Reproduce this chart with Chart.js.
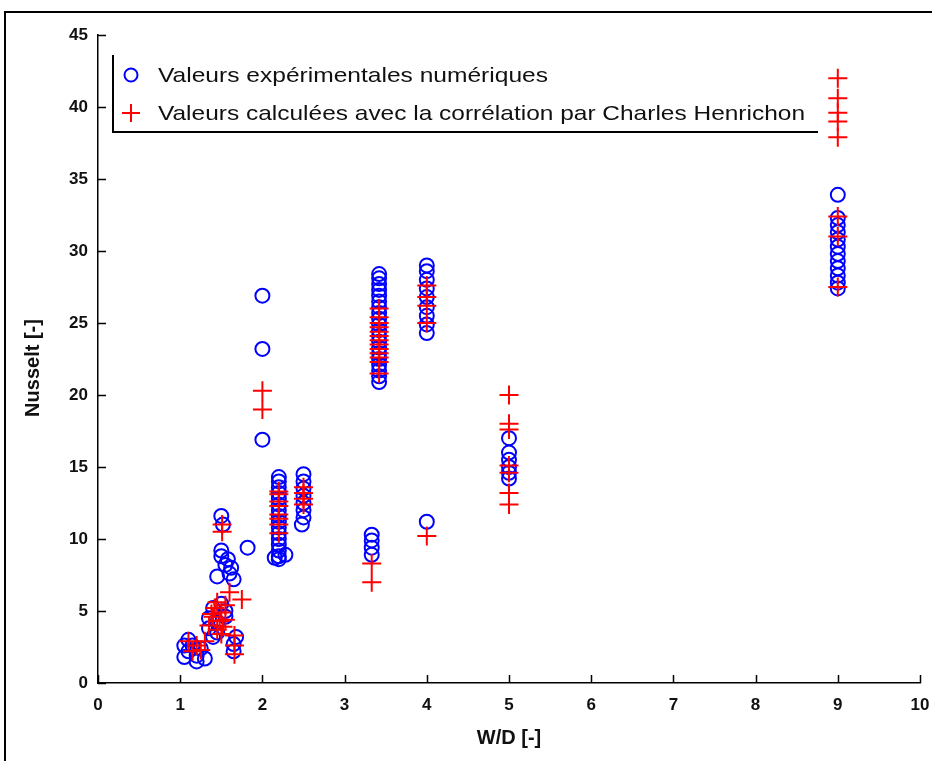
<!DOCTYPE html>
<html lang="fr">
<head>
<meta charset="UTF-8" />
<title>Nusselt en fonction de W/D</title>
<script src="https://cdn.jsdelivr.net/npm/chart.js"></script>
<style>
  html, body { margin: 0; padding: 0; background: #fff; }
  #wrap { position: relative; width: 932px; height: 761px; }
</style>
</head>
<body>
<div id="wrap"><canvas id="chart" width="932" height="761"></canvas></div>
<script>
// Valeurs expérimentales numériques (cercles bleus)
const expX = [
  1.05, 1.1, 1.15, 1.2, 1.1, 1.25, 1.05, 1.3, 1.2,
  1.35, 1.4, 1.45, 1.5, 1.55, 1.45, 1.35, 1.55, 1.4,
  1.5, 1.52, 1.5, 1.55, 1.6, 1.65, 1.5, 1.62, 1.45, 1.58,
  1.82,
  1.65, 1.68, 1.65,
  2, 2, 2,
  2.2, 2.2, 2.2, 2.2, 2.2, 2.2, 2.2, 2.2, 2.2, 2.2, 2.2, 2.2, 2.2, 2.2, 2.2, 2.2, 2.15, 2.28,
  2.5, 2.5, 2.5, 2.5, 2.5, 2.5, 2.5, 2.48,
  3.33, 3.33, 3.33, 3.33,
  3.42, 3.42, 3.42, 3.42, 3.42, 3.42, 3.42, 3.42, 3.42, 3.42,
  3.42, 3.42, 3.42, 3.42, 3.42, 3.42, 3.42, 3.42, 3.42, 3.42,
  4, 4, 4, 4, 4, 4, 4, 4, 4, 4,
  5, 5, 5, 5, 5, 5,
  9, 9, 9, 9, 9, 9, 9, 9, 9, 9, 9, 9
];
const expY = [
  1.8, 2.2, 2.6, 1.9, 3.0, 2.4, 2.6, 1.7, 1.5,
  4.5, 5.2, 3.5, 5.5, 5.0, 4.2, 3.8, 4.6, 3.2,
  11.6, 11.0, 8.8, 8.2, 7.6, 7.2, 9.2, 8.0, 7.4, 8.6,
  9.4,
  2.2, 3.2, 2.7,
  26.9, 23.2, 16.9,
  8.8, 9.2, 9.6, 10.0, 10.4, 10.8, 11.2, 11.6, 12.0, 12.4, 12.8, 13.2, 13.6, 14.0, 14.3, 8.6, 8.7, 8.9,
  11.5, 12.0, 12.5, 13.0, 13.5, 14.0, 14.5, 11.0,
  8.9, 9.4, 9.9, 10.3,
  20.9, 21.3, 21.7, 22.1, 22.5, 22.9, 23.3, 23.7, 24.1, 24.5,
  24.9, 25.3, 25.7, 26.1, 26.5, 26.9, 27.3, 27.7, 28.1, 28.4,
  11.2, 24.3, 24.9, 25.5, 26.1, 26.8, 27.4, 28.0, 28.6, 29.0,
  17.0, 16.0, 15.5, 15.0, 14.6, 14.2,
  33.9, 32.3, 31.8, 31.3, 30.8, 30.3, 29.8, 29.3, 28.8, 28.3, 27.8, 27.4
];

// Valeurs calculées avec la corrélation (croix rouges)
const calcX = [
  1.1, 1.2, 1.25, 1.3, 1.15,
  1.35, 1.4, 1.42, 1.45, 1.48, 1.5, 1.52, 1.55, 1.45, 1.5, 1.38, 1.55,
  1.51, 1.51, 1.6, 1.75,
  1.66, 1.66, 1.66,
  2, 2,
  2.2, 2.2, 2.2, 2.2, 2.2, 2.2, 2.2, 2.2,
  2.5, 2.5, 2.5, 2.5,
  3.33, 3.33,
  3.42, 3.42, 3.42, 3.42, 3.42, 3.42, 3.42, 3.42, 3.42, 3.42, 3.42, 3.42, 3.42,
  4, 4, 4, 4, 4,
  5, 5, 5, 5, 5, 5, 5,
  9, 9, 9, 9, 9, 9, 9, 9
];
const calcY = [
  2.9, 2.6, 2.3, 2.9, 2.2,
  4.0, 4.6, 5.2, 3.7, 4.3, 4.9, 3.9, 5.4, 5.6, 3.4, 4.8, 4.4,
  10.5, 11.0, 6.3, 5.8,
  2.0, 2.6, 3.3,
  19.0, 20.3,
  10.4, 11.0, 11.4, 11.7, 12.3, 12.6, 13.1, 13.3,
  12.4, 12.8, 13.2, 13.6,
  8.3, 7.0,
  21.5, 22.3, 22.6, 22.9, 23.2, 23.5, 23.8, 24.1, 24.4, 24.7, 25.0, 25.4, 26.0,
  10.2, 25.0, 26.2, 26.8, 27.6,
  20.0, 18.0, 17.6, 15.1, 14.6, 13.2, 12.4,
  42.0, 40.6, 39.6, 39.0, 37.9, 32.4, 31.0, 27.5
];

const xTicks = [0, 1, 2, 3, 4, 5, 6, 7, 8, 9, 10];
const yTicks = [0, 5, 10, 15, 20, 25, 30, 35, 40, 45];
const legendLabels = [
  'Valeurs expérimentales numériques',
  'Valeurs calculées avec la corrélation par Charles Henrichon'
];

const FONT = '"Liberation Sans", Arial, sans-serif';

function toPoints(xs, ys) {
  return xs.map((x, i) => ({ x: x, y: ys[i] }));
}

// frame, inward ticks, y title and legend drawn on top of the chart
const decorations = {
  id: 'decorations',
  afterDraw(chart) {
    const ctx = chart.ctx;
    const xs = chart.scales.x, ys = chart.scales.y;
    const area = chart.chartArea;
    ctx.save();

    // outer frame (left + top only visible)
    ctx.strokeStyle = '#000';
    ctx.lineWidth = 2;
    ctx.beginPath();
    ctx.moveTo(5, 761);
    ctx.lineTo(5, 12);
    ctx.lineTo(932, 12);
    ctx.stroke();

    // inward tick marks
    ctx.lineWidth = 1.5;
    ctx.beginPath();
    xTicks.forEach(v => {
      const px = Math.round(xs.getPixelForValue(v)) + 0.5;
      ctx.moveTo(px, area.bottom);
      ctx.lineTo(px, area.bottom - 8);
    });
    yTicks.forEach(v => {
      const py = Math.round(ys.getPixelForValue(v)) + 0.5;
      ctx.moveTo(area.left, py);
      ctx.lineTo(area.left + 8, py);
    });
    ctx.stroke();

    // y axis title
    ctx.save();
    ctx.fillStyle = '#111';
    ctx.font = 'bold 20px ' + FONT;
    ctx.textAlign = 'center';
    ctx.textBaseline = 'middle';
    ctx.translate(33, 368);
    ctx.rotate(-Math.PI / 2);
    ctx.fillText('Nusselt [-]', 0, 0);
    ctx.restore();

    // legend (left + bottom border visible)
    ctx.lineWidth = 2;
    ctx.strokeStyle = '#000';
    ctx.beginPath();
    ctx.moveTo(113, 55);
    ctx.lineTo(113, 132);
    ctx.lineTo(818, 132);
    ctx.stroke();

    // circle marker
    ctx.strokeStyle = '#0000ff';
    ctx.lineWidth = 2;
    ctx.beginPath();
    ctx.arc(131, 75, 6.5, 0, Math.PI * 2);
    ctx.stroke();

    // cross marker
    ctx.strokeStyle = '#ff0000';
    ctx.lineWidth = 2;
    ctx.beginPath();
    ctx.moveTo(122, 113);
    ctx.lineTo(140, 113);
    ctx.moveTo(131, 104);
    ctx.lineTo(131, 122);
    ctx.stroke();

    // legend texts, stretched a little to the reference widths
    ctx.fillStyle = '#111';
    ctx.font = '21px ' + FONT;
    ctx.textBaseline = 'middle';
    ctx.textAlign = 'left';
    const targets = [390, 647];
    legendLabels.forEach((t, i) => {
      const w = ctx.measureText(t).width;
      ctx.save();
      ctx.translate(158, i === 0 ? 76 : 114);
      ctx.scale(targets[i] / w, 1);
      ctx.fillText(t, 0, 0);
      ctx.restore();
    });

    ctx.restore();
  }
};

new Chart(document.getElementById('chart'), {
  type: 'scatter',
  data: {
    datasets: [
      {
        label: legendLabels[0],
        data: toPoints(expX, expY),
        pointStyle: 'circle',
        pointRadius: 7,
        pointHoverRadius: 7,
        backgroundColor: 'rgba(0,0,0,0)',
        borderColor: '#0000ff',
        borderWidth: 2,
        order: 2
      },
      {
        label: legendLabels[1],
        data: toPoints(calcX, calcY),
        pointStyle: 'cross',
        pointRadius: 9.5,
        pointHoverRadius: 9.5,
        borderColor: '#ff0000',
        backgroundColor: '#ff0000',
        borderWidth: 2,
        order: 1
      }
    ]
  },
  options: {
    responsive: false,
    devicePixelRatio: 1,
    animation: false,
    clip: false,
    layout: { padding: { top: 35, right: 12, left: 0, bottom: 0 } },
    plugins: {
      legend: { display: false },
      tooltip: { enabled: false }
    },
    scales: {
      x: {
        type: 'linear',
        min: 0,
        max: 10,
        afterFit: s => { s.height = 78; s.paddingLeft = 0; s.paddingRight = 0; },
        afterBuildTicks: s => { s.ticks = xTicks.map(v => ({ value: v })); },
        grid: { display: false, drawTicks: false },
        border: { display: true, color: '#000', width: 1.5 },
        ticks: { color: '#111', padding: 12, font: { family: FONT, size: 17, weight: 'bold' } },
        title: {
          display: true,
          text: 'W/D [-]',
          color: '#111',
          font: { family: FONT, size: 20, weight: 'bold' },
          padding: { top: 0, bottom: 11 }
        }
      },
      y: {
        type: 'linear',
        min: 0,
        max: 45,
        afterFit: s => { s.width = 98; s.paddingTop = 0; s.paddingBottom = 0; },
        afterBuildTicks: s => { s.ticks = yTicks.map(v => ({ value: v })); },
        grid: { display: false, drawTicks: false },
        border: { display: true, color: '#000', width: 1.5 },
        ticks: { color: '#111', padding: 10, font: { family: FONT, size: 17, weight: 'bold' } },
        title: { display: false }
      }
    }
  },
  plugins: [decorations]
});
</script>
</body>
</html>
